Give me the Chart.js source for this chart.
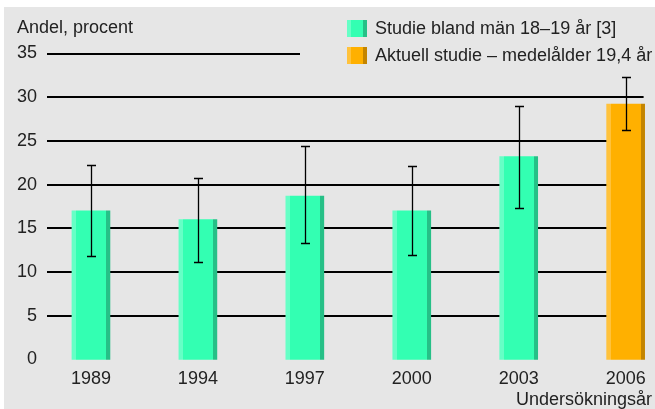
<!DOCTYPE html>
<html>
<head>
<meta charset="utf-8">
<script src="https://cdn.jsdelivr.net/npm/chart.js@4/dist/chart.umd.min.js"></script>
<style>
  html, body { margin: 0; padding: 0; background: #fff; }
  #wrap { position: absolute; left: 0; top: 0; width: 655px; height: 409px; }
</style>
</head>
<body>
<div id="wrap"><canvas id="chart" width="655" height="409"></canvas></div>
<script>
const years = ["1989", "1994", "1997", "2000", "2003", "2006"];
const olderStudy = [17, 16, 18.7, 17, 23.2, null];
const currentStudy = [null, null, null, null, null, 29.2];
const errLow = [11.8, 11.2, 13.3, 11.9, 17.3, 26.3];
const errHigh = [22.2, 20.8, 24.4, 22.1, 29.0, 32.3];
const seriesNames = ["Studie bland män 18–19 år [3]", "Aktuell studie – medelålder 19,4 år"];
const yTitle = "Andel, procent";
const xTitle = "Undersökningsår";

const FONT = "Liberation Sans, Arial, sans-serif";
const TEXT = "#222";
const BAR_W = 38;

const green = { light: "#66ffc6", main: "#33ffb2", dark: "#26c087" };
const orange = { light: "#ffc23c", main: "#ffb000", dark: "#c48500" };

// three stripes: light left edge, main body, dark right edge
function stripedFill(ctx, x0, w, c) {
  const g = ctx.createLinearGradient(x0, 0, x0 + w, 0);
  const a = 4 / w, b = 1 - 4 / w;
  g.addColorStop(0, c.light); g.addColorStop(a, c.light);
  g.addColorStop(a, c.main); g.addColorStop(b, c.main);
  g.addColorStop(b, c.dark); g.addColorStop(1, c.dark);
  return g;
}

function barFill(c) {
  return (context) => {
    const chart = context.chart;
    const xs = chart.scales.x;
    if (!xs || context.dataIndex === undefined) return c.main;
    const cx = xs.getPixelForValue(context.dataIndex);
    if (!isFinite(cx)) return c.main;
    return stripedFill(chart.ctx, cx - BAR_W / 2, BAR_W, c);
  };
}

const toPoints = (arr) => arr.map((v, i) => ({ x: i, y: v }));

const backdrop = {
  id: "backdrop",
  beforeDraw(chart) {
    const ctx = chart.ctx;
    ctx.save();
    ctx.fillStyle = "#e6e6e6";
    ctx.fillRect(4, 7, chart.width - 4, chart.height - 7);
    ctx.restore();
  }
};

const gridLines = {
  id: "gridLines",
  beforeDatasetsDraw(chart) {
    const { ctx, chartArea, scales } = chart;
    ctx.save();
    ctx.strokeStyle = "#000";
    ctx.lineWidth = 2;
    for (let v = 5; v <= 35; v += 5) {
      const y = Math.round(scales.y.getPixelForValue(v));
      const right = v === 35 ? 300 : chartArea.right;
      ctx.beginPath();
      ctx.moveTo(chartArea.left, y);
      ctx.lineTo(right, y);
      ctx.stroke();
    }
    ctx.restore();
  }
};

const errorBars = {
  id: "errorBars",
  afterDatasetsDraw(chart) {
    const { ctx, scales } = chart;
    ctx.save();
    ctx.strokeStyle = "#000";
    ctx.lineWidth = 1.3;
    errLow.forEach((lo, i) => {
      const x = Math.round(scales.x.getPixelForValue(i)) + 0.5;
      const yl = Math.round(scales.y.getPixelForValue(lo)) + 0.5;
      const yh = Math.round(scales.y.getPixelForValue(errHigh[i])) + 0.5;
      ctx.beginPath();
      ctx.moveTo(x, yl); ctx.lineTo(x, yh);
      ctx.moveTo(x - 4.5, yl); ctx.lineTo(x + 4.5, yl);
      ctx.moveTo(x - 4.5, yh); ctx.lineTo(x + 4.5, yh);
      ctx.stroke();
    });
    ctx.restore();
  }
};

const labelsAndLegend = {
  id: "labelsAndLegend",
  afterDraw(chart) {
    const ctx = chart.ctx;
    ctx.save();
    ctx.font = "18px " + FONT;
    ctx.fillStyle = TEXT;
    ctx.textBaseline = "middle";
    ctx.textAlign = "left";
    ctx.fillText(yTitle, 17, 28);
    ctx.textAlign = "right";
    ctx.fillText(xTitle, 652, 400);

    const items = [green, orange];
    items.forEach((c, i) => {
      const y = 20 + i * 27;
      ctx.fillStyle = stripedFill(ctx, 347, 20, c);
      ctx.fillRect(347, y, 20, 17);
      ctx.fillStyle = TEXT;
      ctx.textAlign = "left";
      ctx.fillText(seriesNames[i], 375, y + 9);
    });
    ctx.restore();
  }
};

new Chart(document.getElementById("chart"), {
  type: "bar",
  data: {
    datasets: [
      { label: seriesNames[0], data: toPoints(olderStudy), backgroundColor: barFill(green) },
      { label: seriesNames[1], data: toPoints(currentStudy), backgroundColor: barFill(orange) }
    ]
  },
  options: {
    responsive: false,
    animation: false,
    devicePixelRatio: 1,
    layout: { padding: { left: 0, right: 11, top: 53.5, bottom: 0 } },
    datasets: { bar: { barThickness: BAR_W, grouped: false, borderWidth: 0, clip: false } },
    plugins: { legend: { display: false }, tooltip: { enabled: false } },
    scales: {
      x: {
        type: "linear",
        offset: false,
        min: -0.411,
        max: 5.168,
        grid: { display: false, drawTicks: false },
        border: { display: false },
        afterFit(scale) { scale.height = 49.6; },
        ticks: {
          stepSize: 1,
          includeBounds: false,
          autoSkip: false,
          maxRotation: 0,
          padding: 9,
          color: TEXT,
          font: { family: FONT, size: 18 },
          callback: (v) => (Number.isInteger(v) && years[v]) ? years[v] : ""
        }
      },
      y: {
        min: 0,
        max: 35,
        grid: { display: false, drawTicks: false },
        border: { display: false },
        afterFit(scale) { scale.width = 47; },
        ticks: {
          stepSize: 5,
          padding: 10,
          color: TEXT,
          font: { family: FONT, size: 18 }
        }
      }
    }
  },
  plugins: [backdrop, gridLines, errorBars, labelsAndLegend]
});
</script>
</body>
</html>
